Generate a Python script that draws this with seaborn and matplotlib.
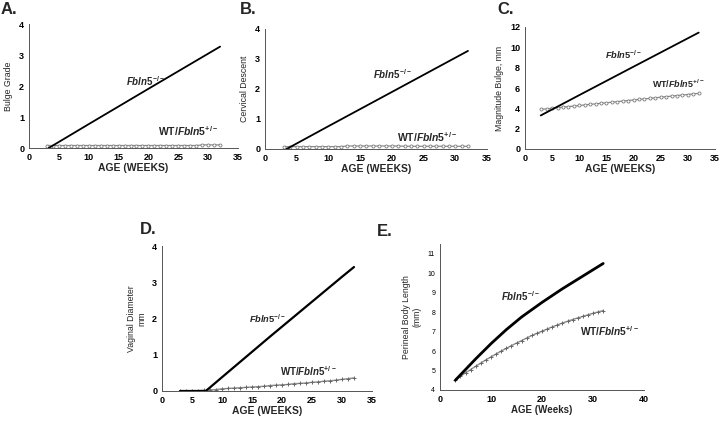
import matplotlib
matplotlib.use("Agg")
import matplotlib.pyplot as plt
import seaborn as sns

sns.set_style("white")
plt.rcParams["font.family"] = ["Liberation Sans", "DejaVu Sans"]
plt.rcParams["mathtext.fontset"] = "custom"
plt.rcParams["mathtext.rm"] = "Liberation Sans:bold"
plt.rcParams["mathtext.bf"] = "Liberation Sans:bold"
plt.rcParams["mathtext.it"] = "Liberation Sans:bold:italic"

# ages (weeks) of weekly WT measurements
weeks = [3, 4, 5, 6, 7, 8, 9, 10, 11, 12, 13, 14, 15, 16, 17, 18, 19, 20,
         21, 22, 23, 24, 25, 26, 27, 28, 29, 30, 31, 32]

# A. Bulge grade
a_ko_age = [3.3, 10, 20, 32]
a_ko_val = [0.0, 0.77, 1.91, 3.27]
a_wt_val = [0.08] * 26 + [0.1, 0.1, 0.1, 0.1]

# B. Cervical descent
b_ko_age = [3.4, 10, 20, 32]
b_ko_val = [0.0, 0.76, 1.9, 3.27]
b_wt_val = [0.08] * 10 + [0.1] * 9 + [0.09] * 11

# C. Magnitude bulge
c_ko_age = [2.9, 10, 20, 32]
c_ko_val = [3.3, 5.3, 8.1, 11.45]
c_wt_val = [3.9, 3.95, 4.01, 4.06, 4.12, 4.17, 4.22, 4.28, 4.33, 4.39,
            4.44, 4.5, 4.55, 4.6, 4.66, 4.71, 4.77, 4.82, 4.88, 4.93,
            4.98, 5.04, 5.09, 5.15, 5.2, 5.26, 5.31, 5.36, 5.42, 5.47]

# D. Vaginal diameter
d_ko_age = [3, 5, 7.3, 10, 14, 18, 22, 26, 30, 32]
d_ko_val = [0.0, 0.0, 0.0, 0.38, 0.94, 1.5, 2.05, 2.6, 3.15, 3.42]
d_wt_val = [0.0, 0.0, 0.01, 0.01, 0.02, 0.03, 0.04, 0.06, 0.07, 0.08,
            0.09, 0.1, 0.11, 0.12, 0.13, 0.15, 0.16, 0.17, 0.18, 0.2,
            0.21, 0.22, 0.24, 0.25, 0.27, 0.28, 0.3, 0.32, 0.34, 0.36]

# E. Perineal body length
e_ko_age = [3, 5, 7, 10, 13, 16, 20, 24, 28, 32]
e_ko_val = [4.5, 5.05, 5.6, 6.38, 7.1, 7.75, 8.5, 9.2, 9.85, 10.5]
e_wt_val = [4.5, 4.7, 4.88, 5.05, 5.22, 5.38, 5.55, 5.7, 5.85, 6.0,
            6.14, 6.28, 6.41, 6.54, 6.67, 6.8, 6.91, 7.02, 7.13, 7.24,
            7.34, 7.44, 7.53, 7.62, 7.7, 7.78, 7.86, 7.94, 8.01, 8.08]

W, H = 720, 422
fig = plt.figure(figsize=(7.2, 4.22), dpi=100)


def px_axes(left, right, top, bottom):
    return fig.add_axes([left / W, 1 - bottom / H, (right - left) / W, (bottom - top) / H])


def style_axes(ax, xlabel, ylabel, xlim, ylim, xticks, yticks, ytick_size=6.5, ybold=True):
    ax.set_xlim(*xlim)
    ax.set_ylim(*ylim)
    ax.set_xticks(xticks)
    ax.set_yticks(yticks)
    ax.tick_params(axis="both", length=2, width=0.6, pad=1.5, colors="black")
    ax.tick_params(axis="x", labelsize=6.5)
    ax.tick_params(axis="y", labelsize=ytick_size)
    for lab in ax.get_xticklabels():
        lab.set_fontweight("bold")
    if ybold:
        for lab in ax.get_yticklabels():
            lab.set_fontweight("bold")
    ax.set_xlabel(xlabel, fontsize=7.5, fontweight="bold", labelpad=1)
    ax.set_ylabel(ylabel, fontsize=6.3, labelpad=4)
    sns.despine(ax=ax)
    for s in ["left", "bottom"]:
        ax.spines[s].set_color("#555555")
        ax.spines[s].set_linewidth(0.7)


def ko_label(ax, x, y, size=7):
    ax.text(x, y, r"$\mathit{Fbln5}^{\mathrm{-/-}}$", fontsize=size, va="center")


def wt_label(ax, x, y, size=7.3):
    ax.text(x, y, r"$\mathrm{WT/}\mathit{Fbln5}^{\mathrm{+/-}}$", fontsize=size, va="center")


wt_kw = dict(color="#8c8c8c", linewidth=0.9, marker="o", markersize=2.2,
             markerfacecolor="white", markeredgecolor="#7a7a7a", markeredgewidth=0.6)
wt_plus = dict(color="#8c8c8c", linewidth=1.0, marker="+", markersize=2.5,
               markeredgecolor="#666666", markeredgewidth=0.7)

# A
ax = px_axes(29, 238, 24, 148)
sns.lineplot(x=weeks, y=a_wt_val, ax=ax, **wt_kw)
sns.lineplot(x=a_ko_age, y=a_ko_val, ax=ax, color="black", linewidth=1.3)
style_axes(ax, "AGE (WEEKS)", "Bulge Grade", (0, 35), (0, 4), range(0, 36, 5), range(0, 5))
ko_label(ax, 16.2, 2.16)
wt_label(ax, 21.6, 0.55, 7.5)
fig.text(1 / W, 1 - 9 / H, "A.", fontsize=12, fontweight="bold", va="center")

# B
ax = px_axes(265, 487, 29, 149)
sns.lineplot(x=weeks, y=b_wt_val, ax=ax, **wt_kw)
sns.lineplot(x=b_ko_age, y=b_ko_val, ax=ax, color="black", linewidth=1.3)
style_axes(ax, "AGE (WEEKS)", "Cervical Descent", (0, 35), (0, 4), range(0, 36, 5), range(0, 5))
ko_label(ax, 17.0, 2.5)
wt_label(ax, 20.8, 0.4, 7.5)
fig.text(240 / W, 1 - 10 / H, "B.", fontsize=12, fontweight="bold", va="center")

# C
ax = px_axes(525, 715, 27, 149)
sns.lineplot(x=weeks, y=c_wt_val, ax=ax, **wt_kw)
sns.lineplot(x=c_ko_age, y=c_ko_val, ax=ax, color="black", linewidth=1.3)
style_axes(ax, "AGE (WEEKS)", "Magnitude Bulge, mm", (0, 35), (0, 12), range(0, 36, 5), range(0, 13, 2))
ko_label(ax, 14.7, 9.3, 6.7)
wt_label(ax, 23.4, 6.4, 6.5)
fig.text(497 / W, 1 - 10 / H, "C.", fontsize=12, fontweight="bold", va="center")

# D
ax = px_axes(162, 372, 246, 391)
sns.lineplot(x=weeks, y=d_wt_val, ax=ax, **wt_plus)
sns.lineplot(x=d_ko_age, y=d_ko_val, ax=ax, color="black", linewidth=1.6)
style_axes(ax, "AGE (WEEKS)", "Vaginal Diameter\nmm", (0, 35), (0, 4), range(0, 36, 5), range(0, 5))
ko_label(ax, 14.5, 2.0, 6.7)
wt_label(ax, 19.7, 0.55, 7.0)
fig.text(140 / W, 1 - 230 / H, "D.", fontsize=12, fontweight="bold", va="center")

# E
ax = px_axes(440, 644, 244, 390)
sns.lineplot(x=weeks, y=e_wt_val, ax=ax, **wt_plus)
sns.lineplot(x=e_ko_age, y=e_ko_val, ax=ax, color="black", linewidth=2.0)
style_axes(ax, "AGE (Weeks)", "Perineal Body Length\n(mm)", (0, 40), (4, 11.5), range(0, 41, 10),
           range(4, 12), ytick_size=5, ybold=False)
ax.xaxis.label.set_fontsize(7)
ko_label(ax, 12.0, 8.84)
wt_label(ax, 27.4, 7.0)
fig.text(377 / W, 1 - 231 / H, "E.", fontsize=12, fontweight="bold", va="center")

fig.savefig("out.png", dpi=100)
